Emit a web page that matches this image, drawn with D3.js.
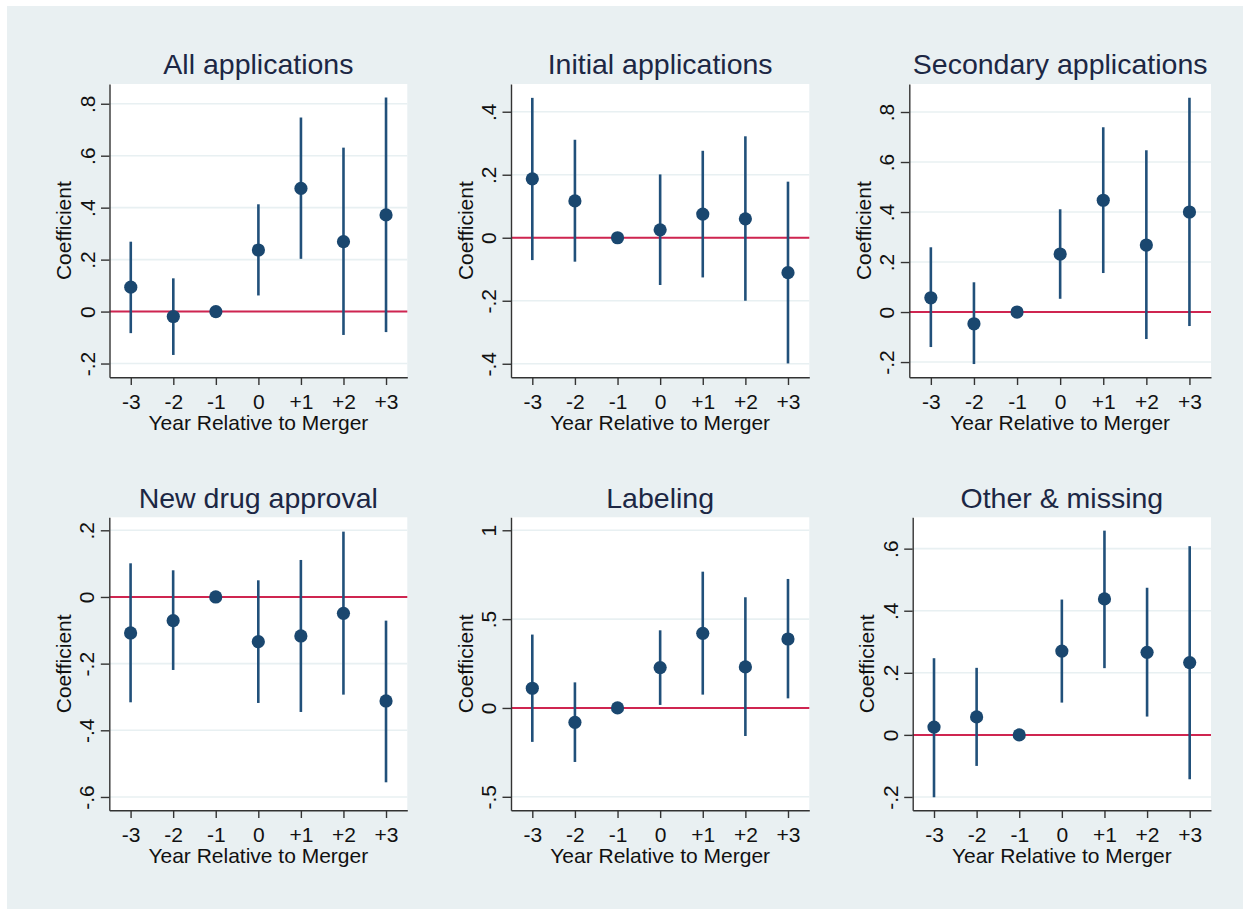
<!DOCTYPE html>
<html>
<head>
<meta charset="utf-8">
<script src="https://cdn.jsdelivr.net/npm/d3@7"></script>
<style>
  html, body { margin: 0; padding: 0; background: #fff; }
  svg { display: block; font-family: "Liberation Sans", Arial, sans-serif; }
</style>
</head>
<body>
<div id="chart"></div>
<script>
// event-time categories
const years = [-3, -2, -1, 0, 1, 2, 3]
const yearLabels = ['-3', '-2', '-1', '0', '+1', '+2', '+3']

const titles = ['All applications', 'Initial applications', 'Secondary applications',
  'New drug approval', 'Labeling', 'Other & missing']

// coefficients and 95% CI bounds (year -1 is the omitted base year)
const allCoef = [0.094, -0.019, 0, 0.237, 0.474, 0.269, 0.372]
const allLo = [-0.083, -0.167, null, 0.062, 0.203, -0.090, -0.079]
const allHi = [0.269, 0.128, null, 0.413, 0.747, 0.631, 0.824]

const initCoef = [0.187, 0.117, 0, 0.025, 0.075, 0.060, -0.111]
const initLo = [-0.071, -0.076, null, -0.150, -0.126, -0.200, -0.399]
const initHi = [0.444, 0.311, null, 0.201, 0.276, 0.322, 0.178]

const secCoef = [0.057, -0.047, 0, 0.232, 0.447, 0.268, 0.400]
const secLo = [-0.140, -0.208, null, 0.053, 0.156, -0.108, -0.056]
const secHi = [0.259, 0.119, null, 0.411, 0.739, 0.647, 0.857]

const ndaCoef = [-0.108, -0.071, 0, -0.134, -0.117, -0.049, -0.312]
const ndaLo = [-0.316, -0.219, null, -0.318, -0.345, -0.293, -0.556]
const ndaHi = [0.101, 0.080, null, 0.050, 0.111, 0.196, -0.071]

const labCoef = [0.111, -0.081, 0, 0.227, 0.420, 0.231, 0.388]
const labLo = [-0.191, -0.304, null, 0.017, 0.075, -0.158, 0.054]
const labHi = [0.413, 0.144, null, 0.437, 0.767, 0.623, 0.726]

const othCoef = [0.025, 0.058, 0, 0.270, 0.438, 0.266, 0.233]
const othLo = [-0.201, -0.100, null, 0.104, 0.215, 0.059, -0.143]
const othHi = [0.247, 0.216, null, 0.436, 0.658, 0.474, 0.608]

// y tick values and axis ranges per panel
const allTicks = [-0.2, 0, 0.2, 0.4, 0.6, 0.8]
const initTicks = [-0.4, -0.2, 0, 0.2, 0.4]
const secTicks = [-0.2, 0, 0.2, 0.4, 0.6, 0.8]
const ndaTicks = [-0.6, -0.4, -0.2, 0, 0.2]
const labTicks = [-0.5, 0, 0.5, 1]
const othTicks = [-0.2, 0, 0.2, 0.4, 0.6]

const yRanges = [[-0.253, 0.876], [-0.443, 0.488], [-0.261, 0.912],
  [-0.640, 0.239], [-0.576, 1.073], [-0.243, 0.701]]

const panels = [
  { coef: allCoef, lo: allLo, hi: allHi, ticks: allTicks },
  { coef: initCoef, lo: initLo, hi: initHi, ticks: initTicks },
  { coef: secCoef, lo: secLo, hi: secHi, ticks: secTicks },
  { coef: ndaCoef, lo: ndaLo, hi: ndaHi, ticks: ndaTicks },
  { coef: labCoef, lo: labLo, hi: labHi, ticks: labTicks },
  { coef: othCoef, lo: othLo, hi: othHi, ticks: othTicks }
]

// plot-region boxes (layout only)
const boxes = [
  { left: 109.5, right: 407.3, top: 84, bottom: 377.3 },
  { left: 511, right: 809.3, top: 84, bottom: 377.3 },
  { left: 909.3, right: 1211, top: 84, bottom: 377.3 },
  { left: 109.3, right: 407.3, top: 517.3, bottom: 810.3 },
  { left: 511, right: 809.3, top: 517.3, bottom: 810.3 },
  { left: 912.7, right: 1211, top: 517.3, bottom: 810.3 }
]

const W = 1243, H = 909
const navy = '#1a476f'
const red = '#cf2550'
const bg = '#e9f0f2'

// Stata style labels: .8, -.2, 0
const stataFmt = v => String(+v.toFixed(2)).replace(/^(-?)0\./, '$1.')

const svg = d3.select('#chart').append('svg')
  .attr('width', W)
  .attr('height', H)

svg.append('rect').attr('width', W).attr('height', H).attr('fill', '#fff')
svg.append('rect')
  .attr('x', 7).attr('y', 6)
  .attr('width', W - 7).attr('height', H - 6)
  .attr('fill', bg)

panels.forEach((p, i) => {
  const b = boxes[i]
  const g = svg.append('g').attr('class', 'panel')

  const x = d3.scaleLinear().domain([-3.5, 3.5]).range([b.left, b.right])
  const y = d3.scaleLinear().domain(yRanges[i]).range([b.bottom, b.top])

  // plot region
  g.append('rect')
    .attr('x', b.left).attr('y', b.top)
    .attr('width', b.right - b.left).attr('height', b.bottom - b.top)
    .attr('fill', '#fff')

  // gridlines
  g.append('g').selectAll('line')
    .data(p.ticks)
    .join('line')
    .attr('x1', b.left).attr('x2', b.right)
    .attr('y1', d => y(d)).attr('y2', d => y(d))
    .attr('stroke', '#e8f0f2')
    .attr('stroke-width', 1.6)

  // zero reference line
  g.append('line')
    .attr('x1', b.left).attr('x2', b.right)
    .attr('y1', y(0)).attr('y2', y(0))
    .attr('stroke', red)
    .attr('stroke-width', 2)

  // y axis
  const yAxis = g.append('g')
    .attr('transform', `translate(${b.left},0)`)
    .call(d3.axisLeft(y).tickValues(p.ticks).tickFormat(stataFmt).tickSize(8.5).tickSizeOuter(0))
  yAxis.selectAll('text')
    .attr('x', null).attr('dy', null)
    .attr('transform', 'translate(-15,0) rotate(-90)')
    .attr('text-anchor', 'middle')

  // x axis
  const xAxis = g.append('g')
    .attr('transform', `translate(0,${b.bottom})`)
    .call(d3.axisBottom(x).tickValues(years).tickFormat((d, k) => yearLabels[k]).tickSize(7.7).tickSizeOuter(0))
  xAxis.selectAll('text')
    .attr('y', 31.5).attr('dy', null)

  g.selectAll('.tick text')
    .attr('font-size', 21)
    .attr('fill', '#111')
    .attr('font-family', '"Liberation Sans", Arial, sans-serif')
  g.selectAll('.domain, .tick line')
    .attr('stroke', '#333')
    .attr('stroke-width', 1.4)

  // axis titles
  g.append('text')
    .attr('x', (b.left + b.right) / 2)
    .attr('y', b.bottom + 52.3)
    .attr('text-anchor', 'middle')
    .attr('font-size', 21)
    .attr('fill', '#111')
    .text('Year Relative to Merger')

  g.append('text')
    .attr('transform', `translate(${b.left - 38.5},${(b.top + b.bottom) / 2}) rotate(-90)`)
    .attr('text-anchor', 'middle')
    .attr('font-size', 21)
    .attr('fill', '#111')
    .text('Coefficient')

  // panel title
  g.append('text')
    .attr('x', (b.left + b.right) / 2)
    .attr('y', b.top - 9.8)
    .attr('text-anchor', 'middle')
    .attr('font-size', 28.5)
    .attr('fill', '#1c2744')
    .text(titles[i])

  // confidence intervals
  const rows = years.map((yr, k) => ({ yr, coef: p.coef[k], lo: p.lo[k], hi: p.hi[k] }))
  g.append('g').selectAll('line')
    .data(rows.filter(d => d.lo !== null))
    .join('line')
    .attr('x1', d => x(d.yr)).attr('x2', d => x(d.yr))
    .attr('y1', d => y(d.lo)).attr('y2', d => y(d.hi))
    .attr('stroke', '#21507a')
    .attr('stroke-width', 2.6)

  // point estimates
  g.append('g').selectAll('circle')
    .data(rows)
    .join('circle')
    .attr('cx', d => x(d.yr))
    .attr('cy', d => y(d.coef))
    .attr('r', 6.6)
    .attr('fill', navy)
})
</script>
</body>
</html>
